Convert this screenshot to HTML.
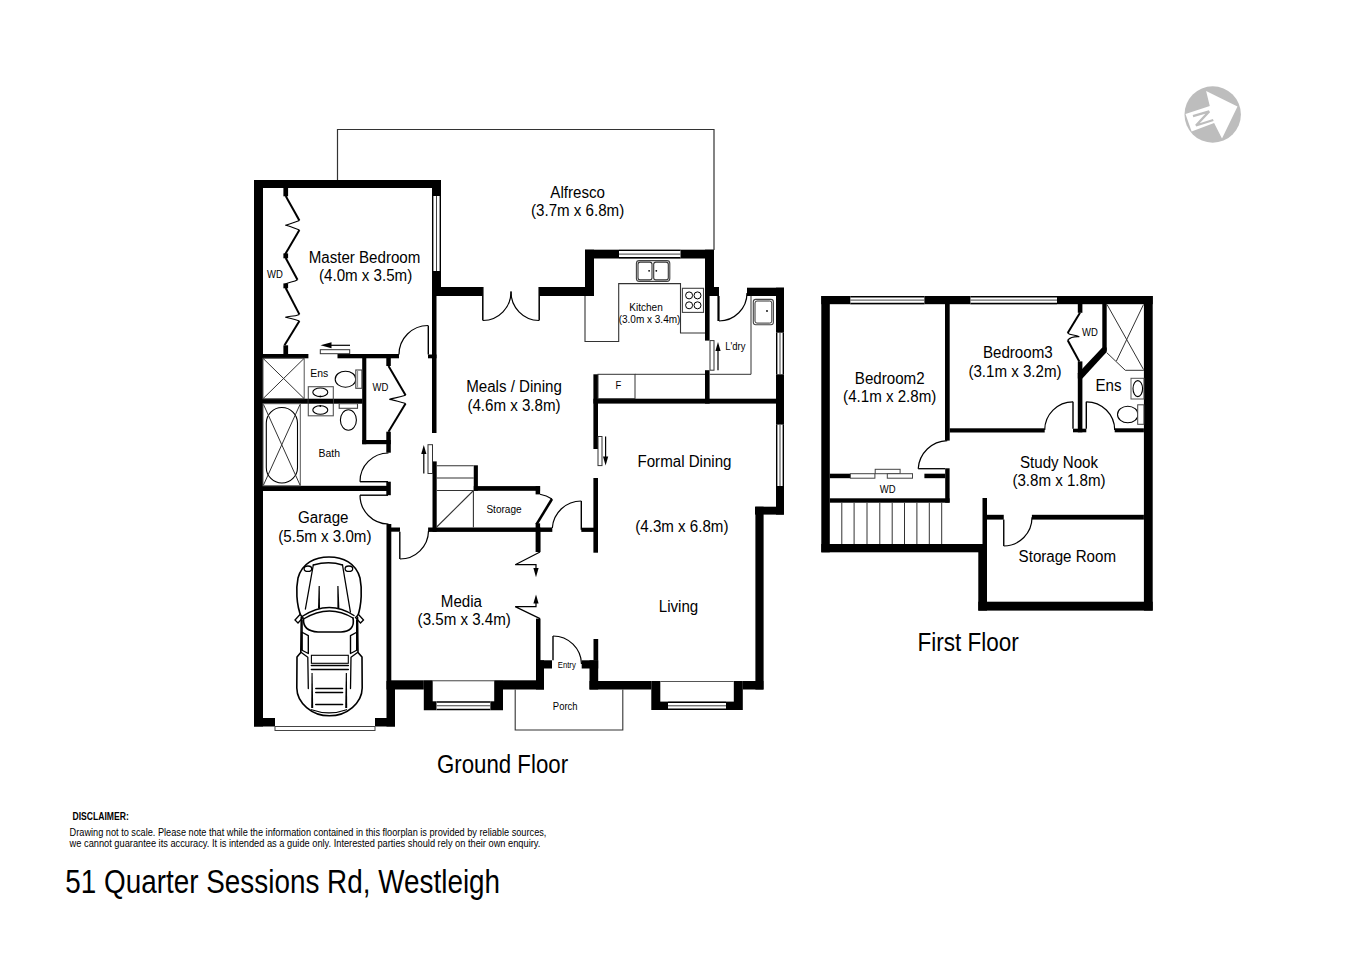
<!DOCTYPE html>
<html><head><meta charset="utf-8"><style>html,body{margin:0;padding:0;background:#fff;width:1357px;height:960px;overflow:hidden}svg{display:block}</style></head>
<body><svg width="1357" height="960" viewBox="0 0 1357 960">
<rect width="1357" height="960" fill="#fff"/>
<g fill="#000"><rect x="254" y="180" width="187.00" height="8.00"/><rect x="254" y="180" width="9.00" height="546.50"/><rect x="432" y="180" width="9.00" height="16.00"/><rect x="432" y="271" width="9.00" height="25.00"/><rect x="441" y="287" width="41.50" height="9.00"/><rect x="432" y="296" width="4.50" height="137.00"/><rect x="428" y="354.5" width="8.50" height="3.80"/><rect x="263" y="354" width="45.40" height="4.30"/><rect x="337.5" y="354" width="61.50" height="4.30"/><rect x="283.4" y="188" width="4.70" height="8.30"/><rect x="283.4" y="253.4" width="4.70" height="4.90"/><rect x="283.4" y="283.4" width="4.70" height="4.90"/><rect x="283.4" y="345.3" width="4.70" height="8.70"/><rect x="263" y="398.7" width="99.50" height="5.00"/><rect x="362.2" y="358" width="4.10" height="86.20"/><rect x="362.2" y="440" width="28.60" height="4.20"/><rect x="386.3" y="358" width="4.50" height="8.00"/><rect x="386.3" y="431.7" width="4.50" height="21.00"/><rect x="263" y="485.8" width="124.00" height="5.20"/><rect x="386.3" y="481.7" width="4.50" height="13.50"/><rect x="386.5" y="524" width="4.80" height="165.50"/><rect x="391" y="527.5" width="9.00" height="4.20"/><rect x="386.5" y="681" width="8.50" height="45.50"/><rect x="254" y="718" width="21.00" height="8.50"/><rect x="375" y="718" width="20.00" height="8.50"/><rect x="391" y="680.3" width="32.80" height="9.20"/><rect x="503" y="680.3" width="41.00" height="9.20"/><rect x="536" y="527.5" width="4.50" height="24.50"/><rect x="536" y="618.6" width="4.50" height="49.90"/><rect x="536" y="660.3" width="16.00" height="8.20"/><rect x="536" y="660.3" width="8.00" height="29.20"/><rect x="581.7" y="660.3" width="16.50" height="8.20"/><rect x="593.5" y="639" width="4.70" height="21.30"/><rect x="589.5" y="660.3" width="8.70" height="29.20"/><rect x="589.5" y="681" width="61.80" height="8.50"/><rect x="742.8" y="681" width="20.60" height="8.50"/><rect x="755.4" y="506.7" width="8.20" height="182.80"/><rect x="755" y="506.7" width="28.80" height="7.90"/><rect x="776" y="287.7" width="8.00" height="226.90"/><rect x="539.3" y="287" width="54.70" height="9.00"/><rect x="585" y="249.7" width="129.00" height="8.80"/><rect x="585" y="249.7" width="9.00" height="46.30"/><rect x="705" y="249.7" width="9.00" height="46.30"/><rect x="705" y="287" width="14.00" height="9.00"/><rect x="705" y="296" width="4.60" height="44.60"/><rect x="705" y="370.2" width="4.60" height="33.40"/><rect x="747" y="287.7" width="37.00" height="8.30"/><rect x="593.4" y="398.7" width="190.60" height="4.90"/><rect x="593.4" y="374.3" width="4.60" height="74.70"/><rect x="593.4" y="478" width="4.60" height="74.70"/><rect x="581.3" y="527.7" width="14.10" height="4.20"/><rect x="432.5" y="461.4" width="4.20" height="70.50"/><rect x="473.75" y="465.3" width="4.15" height="25.50"/><rect x="473.75" y="486.1" width="66.35" height="4.70"/><rect x="535.6" y="486.1" width="4.50" height="8.30"/><rect x="428.1" y="527.5" width="124.20" height="4.40"/><rect x="535.6" y="523.3" width="4.50" height="28.70"/><rect x="821.3" y="296" width="331.40" height="8.20"/><rect x="821.3" y="296" width="8.50" height="256.30"/><rect x="821.3" y="544" width="165.70" height="8.30"/><rect x="1143.9" y="296" width="8.80" height="314.60"/><rect x="945" y="304" width="4.70" height="136.60"/><rect x="949.7" y="428.3" width="95.00" height="4.20"/><rect x="1077.8" y="361.4" width="4.60" height="70.90"/><rect x="1073" y="428.7" width="13.30" height="3.60"/><rect x="1077.8" y="304" width="4.60" height="8.80"/><rect x="1102.3" y="304" width="4.40" height="46.80"/><rect x="1114.7" y="428.3" width="29.20" height="4.00"/><rect x="987" y="514.8" width="16.75" height="4.80"/><rect x="1031.9" y="514.8" width="112.00" height="4.80"/><rect x="982.5" y="498" width="4.50" height="46.00"/><rect x="978.3" y="544" width="8.70" height="66.60"/><rect x="978.3" y="601.7" width="174.40" height="8.90"/><rect x="829.8" y="498.3" width="119.80" height="4.40"/><rect x="945.2" y="468.3" width="4.40" height="34.40"/><rect x="829.8" y="473.7" width="20.60" height="4.50"/><rect x="924.4" y="473.7" width="20.80" height="4.50"/></g>
<path d="M337.5 180 L337.5 129.5 L714 129.5 L714 250" stroke="#333" stroke-width="1.2" fill="none" /><path d="M423.8 680.3 H503 V710.2 H490.2 V701.3 H436.7 V710.2 H423.8 Z" fill="#000"/><rect x="432.7" y="680.3" width="61.5" height="21" fill="#fff"/><line x1="432.7" y1="680.8" x2="494.2" y2="680.8" stroke="#555" stroke-width="1.0"/><rect x="436.7" y="701.3" width="53.50" height="8.90" fill="#fff"/><line x1="436.7" y1="702.0" x2="490.2" y2="702.0" stroke="#000" stroke-width="1.4"/><line x1="436.7" y1="709.5" x2="490.2" y2="709.5" stroke="#000" stroke-width="1.4"/><line x1="436.7" y1="705.75" x2="490.2" y2="705.75" stroke="#444" stroke-width="1.0"/><path d="M651.3 681 H742.8 V710 H726 V701.6 H668 V710 H651.3 Z" fill="#000"/><rect x="660.3" y="681" width="73.5" height="20.6" fill="#fff"/><line x1="660.3" y1="681.5" x2="733.8" y2="681.5" stroke="#555" stroke-width="1.0"/><rect x="668" y="701.6" width="58.00" height="8.40" fill="#fff"/><line x1="668" y1="702.3000000000001" x2="726" y2="702.3000000000001" stroke="#000" stroke-width="1.4"/><line x1="668" y1="709.3" x2="726" y2="709.3" stroke="#000" stroke-width="1.4"/><line x1="668" y1="705.8" x2="726" y2="705.8" stroke="#444" stroke-width="1.0"/><rect x="776" y="332.7" width="8.00" height="41.60" fill="#fff"/><line x1="776.7" y1="332.7" x2="776.7" y2="374.3" stroke="#000" stroke-width="1.4"/><line x1="783.3" y1="332.7" x2="783.3" y2="374.3" stroke="#000" stroke-width="1.4"/><line x1="780.0" y1="332.7" x2="780.0" y2="374.3" stroke="#444" stroke-width="1.0"/><rect x="776" y="424.6" width="8.00" height="61.40" fill="#fff"/><line x1="776.7" y1="424.6" x2="776.7" y2="486" stroke="#000" stroke-width="1.4"/><line x1="783.3" y1="424.6" x2="783.3" y2="486" stroke="#000" stroke-width="1.4"/><line x1="780.0" y1="424.6" x2="780.0" y2="486" stroke="#444" stroke-width="1.0"/><rect x="432" y="196" width="9.00" height="75.00" fill="#fff"/><line x1="432.7" y1="196" x2="432.7" y2="271" stroke="#000" stroke-width="1.4"/><line x1="440.3" y1="196" x2="440.3" y2="271" stroke="#000" stroke-width="1.4"/><line x1="436.5" y1="196" x2="436.5" y2="271" stroke="#444" stroke-width="1.0"/><rect x="619" y="249.7" width="61.50" height="8.80" fill="#fff"/><line x1="619" y1="250.39999999999998" x2="680.5" y2="250.39999999999998" stroke="#000" stroke-width="1.4"/><line x1="619" y1="257.8" x2="680.5" y2="257.8" stroke="#000" stroke-width="1.4"/><line x1="619" y1="254.1" x2="680.5" y2="254.1" stroke="#444" stroke-width="1.0"/><line x1="436.7" y1="465.8" x2="473.75" y2="465.8" stroke="#333" stroke-width="1.1"/><line x1="436.7" y1="478" x2="473.75" y2="478" stroke="#333" stroke-width="1.1"/><line x1="436.7" y1="490.5" x2="473.75" y2="490.5" stroke="#333" stroke-width="1.1"/><line x1="436.7" y1="527" x2="473.5" y2="490.5" stroke="#333" stroke-width="1.1"/><line x1="473.4" y1="490.5" x2="473.4" y2="527.5" stroke="#333" stroke-width="1.1"/><path d="M399 354.5 A29 29 0 0 1 428 325.5" stroke="#000" stroke-width="1.2" fill="none" /><line x1="428.3" y1="325.5" x2="428.3" y2="354.5" stroke="#000" stroke-width="1.4"/><path d="M483 320.5 A28.5 28.5 0 0 0 511 291.5" stroke="#000" stroke-width="1.2" fill="none" /><line x1="482.8" y1="287" x2="482.8" y2="320.5" stroke="#000" stroke-width="1.5"/><path d="M539 320.5 A28.5 28.5 0 0 1 511 291.5" stroke="#000" stroke-width="1.2" fill="none" /><line x1="539.2" y1="287" x2="539.2" y2="320.5" stroke="#000" stroke-width="1.5"/><path d="M719 321 A28 28 0 0 0 747 293" stroke="#000" stroke-width="1.2" fill="none" /><line x1="718.5" y1="296" x2="718.5" y2="321" stroke="#000" stroke-width="2.2"/><path d="M360 481.7 A28.5 28.5 0 0 1 388.5 453" stroke="#000" stroke-width="1.2" fill="none" /><line x1="360" y1="481.7" x2="388" y2="481.7" stroke="#000" stroke-width="1.4"/><path d="M360 495.2 A28.8 28.8 0 0 0 388.5 524" stroke="#000" stroke-width="1.2" fill="none" /><line x1="360" y1="495.2" x2="388" y2="495.2" stroke="#000" stroke-width="1.4"/><path d="M400 559 A28.5 28.5 0 0 0 428.5 531" stroke="#000" stroke-width="1.2" fill="none" /><line x1="399.8" y1="531.7" x2="399.8" y2="559" stroke="#000" stroke-width="1.4"/><path d="M552.3 528 A29 29 0 0 1 581.3 501" stroke="#000" stroke-width="1.2" fill="none" /><line x1="581.3" y1="501" x2="581.3" y2="529.8" stroke="#000" stroke-width="1.4"/><path d="M553 636 A28.5 28.5 0 0 1 581.5 664" stroke="#000" stroke-width="1.2" fill="none" /><line x1="553" y1="636" x2="553" y2="660.3" stroke="#000" stroke-width="1.4"/><line x1="536.5" y1="524.4" x2="552" y2="499" stroke="#000" stroke-width="2.6"/><path d="M540 494.2 A30 30 0 0 1 552 499" stroke="#000" stroke-width="1.1" fill="none" /><rect x="320.3" y="349.7" width="29.40" height="4.00" rx="0" stroke="#333" stroke-width="1.0" fill="#fff"/><line x1="328.5" y1="345.3" x2="350" y2="345.3" stroke="#000" stroke-width="1.2"/><path d="M331.5 342.3 L320.5 345.3 L331.5 348.3 Z" fill="#000"/><rect x="428" y="444.7" width="4.50" height="28.80" rx="0" stroke="#333" stroke-width="1.0" fill="#fff"/><line x1="423.8" y1="453" x2="423.8" y2="473.5" stroke="#000" stroke-width="1.2"/><path d="M421.2 454 L423.8 445 L426.40000000000003 454 Z" fill="#000"/><rect x="598" y="436.5" width="4.00" height="29.10" rx="0" stroke="#333" stroke-width="1.0" fill="#fff"/><line x1="605.6" y1="436.5" x2="605.6" y2="457.6" stroke="#000" stroke-width="1.2"/><path d="M603.0 456.6 L605.6 465.6 L608.2 456.6 Z" fill="#000"/><rect x="710" y="340.6" width="4.00" height="29.60" rx="0" stroke="#333" stroke-width="1.0" fill="#fff"/><line x1="718" y1="350" x2="718" y2="370.2" stroke="#000" stroke-width="1.2"/><path d="M715.4 351 L718 342 L720.6 351 Z" fill="#000"/><path d="M540 552 L515.2 564.7 L536 564.7 L536 570" stroke="#000" stroke-width="1.2" fill="none" /><path d="M533.4 568 L536 577.3 L538.6 568 Z" fill="#000"/><path d="M536 601 L536 606.6 L515.2 606.6 L540 618.6" stroke="#000" stroke-width="1.2" fill="none" /><path d="M533.4 603.5 L536 594.5 L538.6 603.5 Z" fill="#000"/><path d="M285.7 196 L299.4 220.6" stroke="#000" stroke-width="2.0" fill="none" /><path d="M299.4 220.6 C293.35 223.1 289.3 223.8 285.3 225.3 C289.3 225.8 293.35 228 299.4 230" stroke="#000" stroke-width="1.1" fill="none" /><path d="M299.4 230 L284.6 255.3" stroke="#000" stroke-width="2.0" fill="none" /><path d="M285.7 258 L297.5 279.7" stroke="#000" stroke-width="2.0" fill="none" /><path d="M297.5 279.7 C294 282 289 282 284.5 284.4" stroke="#000" stroke-width="1.1" fill="none" /><path d="M285.7 288 L299.4 314.4" stroke="#000" stroke-width="2.0" fill="none" /><path d="M299.4 314.4 C293.35 316.9 289.3 315.7 285.3 317.2 C289.3 317.7 293.35 319 299.4 321" stroke="#000" stroke-width="1.1" fill="none" /><path d="M299.4 321 L284.5 345.3" stroke="#000" stroke-width="2.0" fill="none" /><path d="M388.5 366 L405.6 395.2" stroke="#000" stroke-width="2.0" fill="none" /><path d="M405.6 395.2 C398.5 397.7 393.4 397.9 389.4 399.4 C393.4 399.9 398.5 401.5 405.6 403.5" stroke="#000" stroke-width="1.1" fill="none" /><path d="M405.6 403.5 L388.5 431.7" stroke="#000" stroke-width="2.0" fill="none" /><rect x="263" y="358.3" width="41.20" height="40.40" rx="0" stroke="#555" stroke-width="1.0" fill="none"/><line x1="263" y1="358.3" x2="304.2" y2="398.7" stroke="#333" stroke-width="1.0"/><line x1="304.2" y1="358.3" x2="263" y2="398.7" stroke="#333" stroke-width="1.0"/><rect x="308.3" y="386.7" width="25.00" height="29.10" rx="0" stroke="#555" stroke-width="1.1" fill="#fff"/><ellipse cx="320.3" cy="392.3" rx="7.5" ry="4.3" stroke="#000" stroke-width="1.1" fill="none"/><ellipse cx="320.3" cy="410" rx="7.5" ry="4.3" stroke="#000" stroke-width="1.1" fill="none"/><circle cx="320.3" cy="396.3" r="0.9" fill="#000"/><circle cx="320.3" cy="406" r="0.9" fill="#000"/><rect x="308.3" y="398.7" width="25" height="5" fill="#000"/><ellipse cx="345.5" cy="379.2" rx="10.3" ry="8" stroke="#000" stroke-width="1.1" fill="#fff"/><rect x="355.8" y="370" width="6.10" height="18.30" rx="0" stroke="#444" stroke-width="1.1" fill="#fff"/><line x1="357.6" y1="371" x2="357.6" y2="387.5" stroke="#666" stroke-width="0.8"/><ellipse cx="348.4" cy="420" rx="8" ry="10.3" stroke="#000" stroke-width="1.1" fill="#fff"/><rect x="339.2" y="403.7" width="18.30" height="4.60" rx="0" stroke="#444" stroke-width="1.1" fill="#fff"/><rect x="263" y="403.7" width="37.30" height="82.10" rx="0" stroke="#555" stroke-width="1.0" fill="none"/><rect x="266.3" y="407.5" width="31.2" height="75.5" rx="15.6" stroke="#000" stroke-width="1.1" fill="none"/><line x1="263.5" y1="404.5" x2="300" y2="485" stroke="#333" stroke-width="1.0"/><line x1="300" y1="404.5" x2="263.5" y2="485" stroke="#333" stroke-width="1.0"/><rect x="275" y="726.5" width="100.00" height="4.00" rx="0" stroke="#444" stroke-width="1.0" fill="#fff"/><path d="M515.2 689.5 L515.2 730 L622.8 730 L622.8 689.5" stroke="#333" stroke-width="1.1" fill="none" /><path d="M585 296 L585 341.5 L618.7 341.5 L618.7 283.6 L680.5 283.6 L680.5 333 L705 333" stroke="#333" stroke-width="1.1" fill="none" /><rect x="636.4" y="260.6" width="33.4" height="20.8" rx="2.8" stroke="#444" stroke-width="1.1" fill="#fff"/><rect x="638" y="262.1" width="14" height="17.8" rx="2.2" stroke="#333" stroke-width="1.1" fill="none"/><rect x="653.7" y="262.1" width="14.6" height="17.8" rx="2.2" stroke="#333" stroke-width="1.1" fill="none"/><circle cx="649.1" cy="270.8" r="0.9" fill="#000"/><circle cx="656.3" cy="270.8" r="0.9" fill="#000"/><rect x="682.4" y="288.3" width="21.10" height="24.10" rx="0" stroke="#444" stroke-width="1.1" fill="#fff"/><circle cx="689.1" cy="295.4" r="3.5" stroke="#000" stroke-width="1.0" fill="none"/><circle cx="689.1" cy="305.3" r="3.5" stroke="#000" stroke-width="1.0" fill="none"/><circle cx="697.5" cy="295.4" r="3.5" stroke="#000" stroke-width="1.0" fill="none"/><circle cx="697.5" cy="305.3" r="3.5" stroke="#000" stroke-width="1.0" fill="none"/><rect x="598" y="374.3" width="37.00" height="24.40" rx="0" stroke="#333" stroke-width="1.0" fill="none"/><line x1="635" y1="374.3" x2="705" y2="374.3" stroke="#333" stroke-width="1.0"/><path d="M709.6 374.3 L751 374.3 L751 296" stroke="#333" stroke-width="1.0" fill="none" /><rect x="753.3" y="299.4" width="20.1" height="25.3" rx="2.5" stroke="#444" stroke-width="1.1" fill="#fff"/><rect x="755" y="301" width="16.8" height="22.1" rx="2" stroke="#333" stroke-width="1.0" fill="none"/><circle cx="767" cy="311" r="0.9" fill="#000"/><path d="M301.3 617 C296 604 296 588 298 578 C302 563 315 557 329 557 C343 557 356 563 360 578 C362 588 362 604 357.5 617" stroke="#000" stroke-width="1.6" fill="none" stroke-linecap="round" stroke-linejoin="round"/><path d="M313.3 565 Q329 560.5 342.5 565" stroke="#000" stroke-width="1.4" fill="none" stroke-linecap="round" stroke-linejoin="round"/><path d="M313.3 565 L305.4 609" stroke="#000" stroke-width="1.3" fill="none" stroke-linecap="round" stroke-linejoin="round"/><path d="M342.5 565 L350.4 612" stroke="#000" stroke-width="1.3" fill="none" stroke-linecap="round" stroke-linejoin="round"/><ellipse cx="307.9" cy="568.7" rx="3.8" ry="2.7" stroke="#000" stroke-width="1.3" fill="#fff"/><ellipse cx="348.9" cy="568.7" rx="3.8" ry="2.7" stroke="#000" stroke-width="1.3" fill="#fff"/><path d="M318.6 586 L319.8 586 L320 608.5 L318 608.5 Z" fill="#000"/><path d="M337.3 586 L338.5 586 L339.4 608.5 L337.4 608.5 Z" fill="#000"/><path d="M302 616.5 Q329 599 354 615.5" stroke="#000" stroke-width="1.4" fill="none" stroke-linecap="round" stroke-linejoin="round"/><path d="M303.5 619 Q329 603.5 353 618" stroke="#000" stroke-width="1.4" fill="none" stroke-linecap="round" stroke-linejoin="round"/><path d="M303.5 619 C303 628 310 631.5 318 632 L341 632 C349 631.5 355 628 353 618" stroke="#000" stroke-width="1.6" fill="none" stroke-linecap="round" stroke-linejoin="round"/><path d="M295 620 L300 614.5 L303 617.5 L298 623 Z" stroke="#000" stroke-width="1.3" fill="#fff"/><path d="M363.5 620 L358.5 614.5 L355.5 617.5 L360.5 623 Z" stroke="#000" stroke-width="1.3" fill="#fff"/><path d="M301.3 617 L300.8 652.5 L297 657 L296.8 688 C297 703 312 715.8 329.4 715.8 C347 715.8 362 703 362.2 688 L362 657 L358 652.5 L357.5 617" stroke="#000" stroke-width="1.6" fill="none" stroke-linecap="round" stroke-linejoin="round"/><path d="M302.3 620 L302.3 650" stroke="#000" stroke-width="1.0" fill="none" stroke-linecap="round" stroke-linejoin="round"/><path d="M356.5 620 L356.5 650" stroke="#000" stroke-width="1.0" fill="none" stroke-linecap="round" stroke-linejoin="round"/><path d="M301.6 632 L308.3 635.6 L308.3 653.5 L301.6 650 Z" stroke="#000" stroke-width="1.4" fill="none" stroke-linecap="round" stroke-linejoin="round"/><path d="M357.2 632 L350.5 635.6 L350.5 653.5 L357.2 650 Z" stroke="#000" stroke-width="1.4" fill="none" stroke-linecap="round" stroke-linejoin="round"/><path d="M301.3 652.5 L307.8 657.2 L308.3 688.6" stroke="#000" stroke-width="1.3" fill="none" stroke-linecap="round" stroke-linejoin="round"/><path d="M357.5 652.5 L351 657.2 L350.5 688.6" stroke="#000" stroke-width="1.3" fill="none" stroke-linecap="round" stroke-linejoin="round"/><rect x="311.4" y="655.3" width="36.9" height="8" stroke="#000" stroke-width="1.1" fill="none"/><path d="M311.4 665.5 L348.3 665.5" stroke="#000" stroke-width="1.5" fill="none" stroke-linecap="round" stroke-linejoin="round"/><path d="M311.4 669.5 L348.3 669.5" stroke="#000" stroke-width="1.6" fill="none" stroke-linecap="round" stroke-linejoin="round"/><path d="M311.5 673 L312.6 673 L313.2 708 L311.2 708 Z" fill="#000"/><path d="M345.8 673 L346.9 673 L347.2 708 L345.2 708 Z" fill="#000"/><path d="M315.8 688.5 L342.5 688.5" stroke="#000" stroke-width="1.5" fill="none" stroke-linecap="round" stroke-linejoin="round"/><path d="M315.8 692.5 L342.5 692.5" stroke="#000" stroke-width="1.6" fill="none" stroke-linecap="round" stroke-linejoin="round"/><path d="M315.8 704.5 L342.5 704.5" stroke="#000" stroke-width="1.6" fill="none" stroke-linecap="round" stroke-linejoin="round"/><path d="M311.6 709.7 Q329 716 346.6 709.7" stroke="#000" stroke-width="1.2" fill="none" stroke-linecap="round" stroke-linejoin="round"/><rect x="850.3" y="296" width="74.10" height="8.20" fill="#fff"/><line x1="850.3" y1="296.7" x2="924.4" y2="296.7" stroke="#000" stroke-width="1.4"/><line x1="850.3" y1="303.5" x2="924.4" y2="303.5" stroke="#000" stroke-width="1.4"/><line x1="850.3" y1="300.1" x2="924.4" y2="300.1" stroke="#444" stroke-width="1.0"/><rect x="970.4" y="296" width="86.60" height="8.20" fill="#fff"/><line x1="970.4" y1="296.7" x2="1057" y2="296.7" stroke="#000" stroke-width="1.4"/><line x1="970.4" y1="303.5" x2="1057" y2="303.5" stroke="#000" stroke-width="1.4"/><line x1="970.4" y1="300.1" x2="1057" y2="300.1" stroke="#444" stroke-width="1.0"/><path d="M1077.8 373.5 L1102.3 347.5 L1106.7 347.5 L1106.7 352 L1082.4 378.5 L1077.8 378.5 Z" fill="#000"/><rect x="850.4" y="473.7" width="24.50" height="4.50" rx="0" stroke="#444" stroke-width="1.0" fill="#fff"/><rect x="875.2" y="469.3" width="24.90" height="4.40" rx="0" stroke="#444" stroke-width="1.0" fill="#fff"/><rect x="887.3" y="473.7" width="25.20" height="4.50" rx="0" stroke="#444" stroke-width="1.0" fill="#fff"/><line x1="918.2" y1="468.7" x2="945.2" y2="468.7" stroke="#000" stroke-width="1.3"/><path d="M918.2 468.7 A30 30 0 0 1 947.3 440.6" stroke="#000" stroke-width="1.2" fill="none" /><line x1="841.8" y1="502.7" x2="841.8" y2="544" stroke="#333" stroke-width="1.0"/><line x1="854.1" y1="502.7" x2="854.1" y2="544" stroke="#333" stroke-width="1.0"/><line x1="867" y1="502.7" x2="867" y2="544" stroke="#333" stroke-width="1.0"/><line x1="879.8" y1="502.7" x2="879.8" y2="544" stroke="#333" stroke-width="1.0"/><line x1="892.2" y1="502.7" x2="892.2" y2="544" stroke="#333" stroke-width="1.0"/><line x1="904.5" y1="502.7" x2="904.5" y2="544" stroke="#333" stroke-width="1.0"/><line x1="916.9" y1="502.7" x2="916.9" y2="544" stroke="#333" stroke-width="1.0"/><line x1="929.3" y1="502.7" x2="929.3" y2="544" stroke="#333" stroke-width="1.0"/><line x1="941.7" y1="502.7" x2="941.7" y2="544" stroke="#333" stroke-width="1.0"/><path d="M1044.7 430 A28.3 28.3 0 0 1 1073 401.8" stroke="#000" stroke-width="1.2" fill="none" /><line x1="1073" y1="401.8" x2="1073" y2="428.7" stroke="#000" stroke-width="1.4"/><path d="M1086.3 401.8 A28.3 28.3 0 0 1 1114.7 430" stroke="#000" stroke-width="1.2" fill="none" /><line x1="1086.3" y1="401.8" x2="1086.3" y2="428.7" stroke="#000" stroke-width="1.4"/><path d="M1003.75 546 A28.5 28.5 0 0 0 1032 517.3" stroke="#000" stroke-width="1.2" fill="none" /><line x1="1003.75" y1="519.6" x2="1003.75" y2="546" stroke="#000" stroke-width="1.4"/><path d="M1080 312.8 L1067.7 333.1" stroke="#000" stroke-width="2.0" fill="none" /><path d="M1067.7 333.1 C1070 335.5 1075 334.5 1079.3 336.7 C1075 336.5 1070 337.5 1067.7 340.2" stroke="#000" stroke-width="1.1" fill="none" /><path d="M1067.7 340.2 L1079.3 361.4" stroke="#000" stroke-width="2.0" fill="none" /><path d="M1106.7 352.6 L1125.3 370.3 L1143.9 370.3" stroke="#333" stroke-width="1.0" fill="none" /><line x1="1107" y1="304.5" x2="1143.5" y2="369.5" stroke="#333" stroke-width="1.0"/><line x1="1143.5" y1="304.5" x2="1116.4" y2="361" stroke="#333" stroke-width="1.0"/><rect x="1131" y="378.3" width="12.90" height="20.70" rx="0" stroke="#555" stroke-width="1.0" fill="#fff"/><ellipse cx="1137.8" cy="388.6" rx="4.8" ry="8" stroke="#000" stroke-width="1.1" fill="none"/><ellipse cx="1127.8" cy="414.5" rx="10.3" ry="8.3" stroke="#000" stroke-width="1.1" fill="#fff"/><rect x="1137.7" y="404.8" width="6.20" height="19.50" rx="0" stroke="#444" stroke-width="1.0" fill="#fff"/><circle cx="1212.7" cy="114.5" r="28.2" fill="#bdbdbd"/><path d="M1206.1 91.1 L1237.5 106.6 L1222 138.4 L1214.1 123 L1191.6 131.4 L1185.5 114.1 L1209.8 106.1 Z" fill="#fff"/><path d="M1193 116.2 L1209.2 111.4 L1196 125.5 L1213.3 120" stroke="#bdbdbd" stroke-width="2.3" fill="none" stroke-linejoin="bevel"/>
<g font-family="Liberation Sans, sans-serif" fill="#000"><text x="0" y="0" transform="translate(577.6 197.5) scale(0.945 1)" font-size="16" font-weight="normal" text-anchor="middle">Alfresco</text><text x="0" y="0" transform="translate(577.6 215.8) scale(0.945 1)" font-size="16" font-weight="normal" text-anchor="middle">(3.7m x 6.8m)</text><text x="0" y="0" transform="translate(364.5 262.8) scale(0.945 1)" font-size="16" font-weight="normal" text-anchor="middle">Master Bedroom</text><text x="0" y="0" transform="translate(365.6 281.2) scale(0.945 1)" font-size="16" font-weight="normal" text-anchor="middle">(4.0m x 3.5m)</text><text x="0" y="0" transform="translate(514 391.7) scale(0.945 1)" font-size="16" font-weight="normal" text-anchor="middle">Meals / Dining</text><text x="0" y="0" transform="translate(514 411) scale(0.945 1)" font-size="16" font-weight="normal" text-anchor="middle">(4.6m x 3.8m)</text><text x="0" y="0" transform="translate(684.5 467.2) scale(0.945 1)" font-size="16" font-weight="normal" text-anchor="middle">Formal Dining</text><text x="0" y="0" transform="translate(681.9 532.4) scale(0.945 1)" font-size="16" font-weight="normal" text-anchor="middle">(4.3m x 6.8m)</text><text x="0" y="0" transform="translate(678.5 611.6) scale(0.945 1)" font-size="16" font-weight="normal" text-anchor="middle">Living</text><text x="0" y="0" transform="translate(461.4 606.6) scale(0.945 1)" font-size="16" font-weight="normal" text-anchor="middle">Media</text><text x="0" y="0" transform="translate(464.2 625.4) scale(0.945 1)" font-size="16" font-weight="normal" text-anchor="middle">(3.5m x 3.4m)</text><text x="0" y="0" transform="translate(323.3 523.3) scale(0.945 1)" font-size="16" font-weight="normal" text-anchor="middle">Garage</text><text x="0" y="0" transform="translate(324.9 542) scale(0.945 1)" font-size="16" font-weight="normal" text-anchor="middle">(5.5m x 3.0m)</text><text x="0" y="0" transform="translate(646 310.6) scale(0.955 1)" font-size="10.5" font-weight="normal" text-anchor="middle">Kitchen</text><text x="0" y="0" transform="translate(649.5 322.8) scale(0.955 1)" font-size="10.5" font-weight="normal" text-anchor="middle">(3.0m x 3.4m)</text><text x="0" y="0" transform="translate(504 513.4) scale(0.95 1)" font-size="10.6" font-weight="normal" text-anchor="middle">Storage</text><text x="0" y="0" transform="translate(566.8 667.8) scale(0.86 1)" font-size="9" font-weight="normal" text-anchor="middle">Entry</text><text x="0" y="0" transform="translate(565.2 709.5) scale(0.86 1)" font-size="11" font-weight="normal" text-anchor="middle">Porch</text><text x="0" y="0" transform="translate(319.2 376.7) scale(0.95 1)" font-size="11" font-weight="normal" text-anchor="middle">Ens</text><text x="0" y="0" transform="translate(329.2 456.7) scale(0.95 1)" font-size="11" font-weight="normal" text-anchor="middle">Bath</text><text x="0" y="0" transform="translate(275.0 277.8) scale(0.95 1)" font-size="10" font-weight="normal" text-anchor="middle">WD</text><text x="0" y="0" transform="translate(380.4 391) scale(0.95 1)" font-size="10" font-weight="normal" text-anchor="middle">WD</text><text x="0" y="0" transform="translate(618.4 389) scale(0.86 1)" font-size="11" font-weight="normal" text-anchor="middle">F</text><text x="0" y="0" transform="translate(735.4 350) scale(0.86 1)" font-size="11" font-weight="normal" text-anchor="middle">L'dry</text><text x="0" y="0" transform="translate(889.7 383.5) scale(0.945 1)" font-size="16" font-weight="normal" text-anchor="middle">Bedroom2</text><text x="0" y="0" transform="translate(889.7 402) scale(0.945 1)" font-size="16" font-weight="normal" text-anchor="middle">(4.1m x 2.8m)</text><text x="0" y="0" transform="translate(1017.8 357.9) scale(0.945 1)" font-size="16" font-weight="normal" text-anchor="middle">Bedroom3</text><text x="0" y="0" transform="translate(1015 377) scale(0.945 1)" font-size="16" font-weight="normal" text-anchor="middle">(3.1m x 3.2m)</text><text x="0" y="0" transform="translate(1089.9 335.8) scale(0.95 1)" font-size="10" font-weight="normal" text-anchor="middle">WD</text><text x="0" y="0" transform="translate(1108.5 390.7) scale(0.945 1)" font-size="16" font-weight="normal" text-anchor="middle">Ens</text><text x="0" y="0" transform="translate(1059 467.5) scale(0.945 1)" font-size="16" font-weight="normal" text-anchor="middle">Study Nook</text><text x="0" y="0" transform="translate(1059 486.25) scale(0.945 1)" font-size="16" font-weight="normal" text-anchor="middle">(3.8m x 1.8m)</text><text x="0" y="0" transform="translate(1067.3 561.7) scale(0.945 1)" font-size="16" font-weight="normal" text-anchor="middle">Storage Room</text><text x="0" y="0" transform="translate(887.7 492.6) scale(0.95 1)" font-size="10" font-weight="normal" text-anchor="middle">WD</text><text x="0" y="0" transform="translate(502.5 772.9) scale(0.84 1)" font-size="26.5" font-weight="normal" text-anchor="middle">Ground Floor</text><text x="0" y="0" transform="translate(968.1 650.7) scale(0.866 1)" font-size="26" font-weight="normal" text-anchor="middle">First Floor</text><text x="0" y="0" transform="translate(72.5 819.7) scale(0.86 1)" font-size="10" font-weight="bold" text-anchor="start">DISCLAIMER:</text><text x="0" y="0" transform="translate(69.6 836) scale(0.868 1)" font-size="10.6" font-weight="normal" text-anchor="start">Drawing not to scale. Please note that while the information contained in this floorplan is provided by reliable sources,</text><text x="0" y="0" transform="translate(69.6 846.5) scale(0.875 1)" font-size="10.6" font-weight="normal" text-anchor="start">we cannot guarantee its accuracy. It is intended as a guide only. Interested parties should rely on their own enquiry.</text><text x="0" y="0" transform="translate(65.3 892.8) scale(0.84 1)" font-size="33.2" font-weight="normal" text-anchor="start">51 Quarter Sessions Rd, Westleigh</text></g>
</svg></body></html>
